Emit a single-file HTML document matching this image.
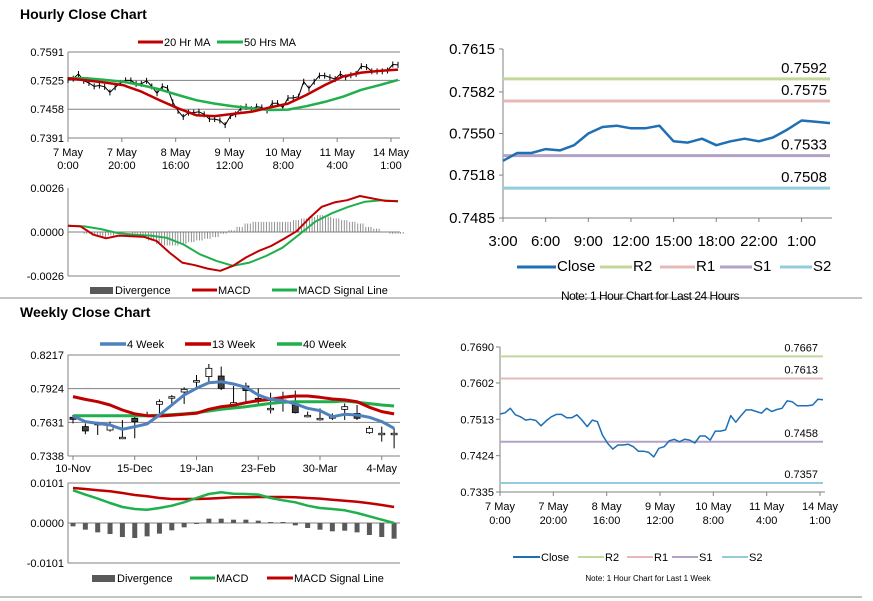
<!DOCTYPE html>
<html><head><meta charset="utf-8"><style>
body{margin:0;background:#fff;}
svg{display:block;font-family:"Liberation Sans",Arial,sans-serif;}
</style></head><body>
<svg id="s" width="873" height="601" viewBox="0 0 873 601" xmlns="http://www.w3.org/2000/svg">
<text x="20" y="19" font-size="14" font-weight="bold">Hourly Close Chart</text>
<text x="20" y="317" font-size="14" font-weight="bold">Weekly Close Chart</text>
<line x1="0" y1="298" x2="862" y2="298" stroke="#888" stroke-width="1"/>
<line x1="0" y1="597" x2="862" y2="597" stroke="#888" stroke-width="1"/>
</svg>
<script>
// ---- data: hourly (last week) close ----
const weekClose=[0.7526,0.7529,0.7540,0.7524,0.7519,0.7511,0.7513,0.7510,0.7497,0.7509,0.7519,0.7525,0.7525,0.7517,0.7517,0.7524,0.7511,0.7495,0.7511,0.7507,0.7474,0.7454,0.7440,0.7450,0.7450,0.7452,0.7446,0.7435,0.7435,0.7432,0.7421,0.7442,0.7446,0.7460,0.7464,0.7458,0.7464,0.7462,0.7455,0.7472,0.7472,0.7462,0.7484,0.7484,0.7487,0.7522,0.7506,0.7522,0.7536,0.7536,0.7532,0.7528,0.7540,0.7532,0.7537,0.7540,0.7558,0.7556,0.7546,0.7546,0.7546,0.7548,0.7562,0.7561];
const ma20=[0.7530,0.7525,0.7520,0.7514,0.7499,0.7479,0.7460,0.7444,0.7442,0.7447,0.7452,0.7462,0.7471,0.7491,0.7514,0.7534,0.7543,0.7547,0.7550];
const ma50=[0.7530,0.7530,0.7526,0.7522,0.7514,0.7504,0.7491,0.7479,0.7471,0.7465,0.7460,0.7456,0.7457,0.7465,0.7475,0.7487,0.7503,0.7514,0.7526];
const hourTicks=[["7 May","0:00"],["7 May","20:00"],["8 May","16:00"],["9 May","12:00"],["10 May","8:00"],["11 May","4:00"],["14 May","1:00"]];
const hPriceTicks=[0.7591,0.7525,0.7458,0.7391];
const hMacd=[0.00037,0.00033,-0.00016,-0.00037,-0.00021,-0.00025,-0.00029,-0.00054,-0.00122,-0.00181,-0.00196,-0.00216,-0.00229,-0.0020,-0.00151,-0.00113,-0.00083,-0.00041,0.00004,0.00081,0.00149,0.00175,0.00188,0.00213,0.00198,0.00184,0.00182];
const hSignal=[0.00037,0.00033,0.00017,-0.00006,-0.00016,-0.00021,-0.00035,-0.00074,-0.00132,-0.00171,-0.0020,-0.00181,-0.00142,-0.00093,-0.00016,0.00062,0.00111,0.00149,0.00179,0.00188,0.00182];
const hDiv=[0,0,-0.0001,-0.0002,-0.0003,-0.0002,-0.0001,0,-0.0001,-0.0003,-0.0005,-0.0007,-0.0008,-0.0008,-0.0007,-0.0006,-0.0005,-0.0004,-0.0003,-0.0001,0.0001,0.0003,0.0005,0.0006,0.0006,0.0006,0.0006,0.0006,0.0007,0.0008,0.0009,0.0010,0.0009,0.0008,0.0007,0.0006,0.0005,0.0003,0.0002,0,-0.0001,-0.0001];
const hMacdTicks=[0.0026,0.0,-0.0026];
// ---- 24h chart ----
const dayClose=[0.7529,0.7535,0.7535,0.7538,0.7537,0.7541,0.7550,0.7555,0.7556,0.7554,0.7554,0.7556,0.7544,0.7543,0.7546,0.7541,0.7544,0.7546,0.7544,0.7547,0.7553,0.7560,0.7559,0.7558];
const dayTicks=["3:00","6:00","9:00","12:00","15:00","18:00","22:00","1:00"];
const dayYTicks=[0.7615,0.7582,0.7550,0.7518,0.7485];
const dayLevels=[0.7592,0.7575,0.7533,0.7508];
const weekLevels=[0.7667,0.7613,0.7458,0.7357];
const weekYTicks=[0.7690,0.7602,0.7513,0.7424,0.7335];
// ---- weekly candles ----
const wOpen=[0.7675,0.7594,0.7622,0.7564,0.7501,0.7666,0.7695,0.7788,0.7854,0.7895,0.7994,0.8029,0.8034,0.7773,0.7947,0.7840,0.7753,0.7826,0.7782,0.7692,0.7666,0.7680,0.7744,0.7709,0.7541,0.7536,0.7536];
const wClose=[0.7657,0.7556,0.7622,0.7608,0.7501,0.7637,0.7695,0.7811,0.7854,0.7918,0.7994,0.8101,0.7927,0.7802,0.7907,0.7826,0.7753,0.7826,0.7715,0.7692,0.7666,0.7680,0.7767,0.7666,0.7579,0.7536,0.7536];
const wHigh=[0.7695,0.7622,0.7637,0.7637,0.7651,0.7709,0.7724,0.7831,0.7869,0.7936,0.8043,0.8139,0.8116,0.7947,0.7976,0.7927,0.7889,0.7898,0.7907,0.7724,0.7753,0.7709,0.7796,0.7782,0.7599,0.7594,0.7579];
const wLow=[0.7622,0.7527,0.7521,0.7550,0.7499,0.7492,0.7680,0.7709,0.7782,0.7791,0.7912,0.7985,0.7912,0.7767,0.7811,0.7782,0.7709,0.7724,0.7709,0.7675,0.7646,0.7651,0.7651,0.7651,0.7530,0.7463,0.7405];
const w4=[0.7686,0.7637,0.7622,0.7608,0.7570,0.7593,0.7617,0.7695,0.7782,0.7869,0.7927,0.7976,0.7985,0.7965,0.7936,0.7869,0.7831,0.7820,0.7791,0.7753,0.7733,0.7680,0.7701,0.7695,0.7675,0.7637,0.7579];
const w13=[0.7855,0.7831,0.7811,0.7782,0.7738,0.7704,0.7689,0.7686,0.7692,0.7701,0.7710,0.7744,0.7767,0.7779,0.7802,0.7820,0.7831,0.7849,0.7860,0.7860,0.7849,0.7834,0.7826,0.7811,0.7762,0.7724,0.7704];
const w40=[0.7689,0.7689,0.7689,0.7689,0.7689,0.7689,0.7689,0.7692,0.7698,0.7704,0.7715,0.7730,0.7744,0.7756,0.7767,0.7782,0.7796,0.7805,0.7811,0.7811,0.7811,0.7811,0.7817,0.7805,0.7794,0.7782,0.7773];
const weekLabels=["10-Nov","15-Dec","19-Jan","23-Feb","30-Mar","4-May"];
const wYTicks=[0.8217,0.7924,0.7631,0.7338];
const wMacd=[0.00825,0.00716,0.00615,0.00505,0.00404,0.00354,0.00337,0.00379,0.00438,0.00522,0.00632,0.00733,0.00775,0.00741,0.00733,0.00716,0.00632,0.00574,0.00522,0.00438,0.00379,0.00354,0.00320,0.00253,0.00168,0.00084,0];
const wSignal=[0.00884,0.00859,0.00825,0.00800,0.00758,0.00707,0.00674,0.00632,0.00606,0.00606,0.00606,0.00615,0.00632,0.00648,0.00648,0.00657,0.00657,0.00657,0.00648,0.00632,0.00615,0.00589,0.00564,0.00539,0.00497,0.00455,0.00404];
const wDiv=[-0.00084,-0.00168,-0.00236,-0.00278,-0.00354,-0.00379,-0.00337,-0.00269,-0.00185,-0.00109,-0.00025,0.00109,0.00109,0.00084,0.00084,0.00059,0.00025,0.00025,-0.00059,-0.00126,-0.00168,-0.00210,-0.00194,-0.00236,-0.00303,-0.00354,-0.00396];
const wMacdTicks=[0.0101,0.0,-0.0101];

const S=document.getElementById('s');
const NS='http://www.w3.org/2000/svg';
function mk(tag,attrs,parent){const e=document.createElementNS(NS,tag);for(const k in attrs)e.setAttribute(k,attrs[k]);(parent||S).appendChild(e);return e;}
function lin(d0,d1,r0,r1){return v=>r0+(v-d0)/(d1-d0)*(r1-r0);}
function txt(x,y,s,size,anchor,name){const t=mk('text',{x:x,y:y,'font-size':size,'text-anchor':anchor||'start',fill:'#000'});t.textContent=s;


return t;}
function poly(arr,xf,yf,color,w,name){const pts=arr.map((v,i)=>xf(i).toFixed(1)+','+yf(v).toFixed(1)).join(' ');const p=mk('polyline',{points:pts,fill:'none',stroke:color,'stroke-width':w,'stroke-linejoin':'round'});


return p;}
function hline(x1,x2,y,color,w,name){const l=mk('line',{x1:x1,x2:x2,y1:y,y2:y,stroke:color,'stroke-width':w});


return l;}
function vline(x,y1,y2,color,w,name){const l=mk('line',{x1:x,x2:x,y1:y1,y2:y2,stroke:color,'stroke-width':w});


return l;}
function legLine(x1,x2,y,color,w,label,size,name){hline(x1,x2,y,color,w,name+'-swatch');txt(x2+1,y+4,label,size,'start',name+'-label');}
function legBox(x1,x2,y,label,size,name){const r=mk('rect',{x:x1,y:y-3,width:x2-x1,height:7,fill:'#595959'});


txt(x2+2,y+4,label,size,'start',name+'-label');}

// ===== Hourly price chart (top-left) =====
{const X0=68,X1=398,yf=lin(0.7391,0.7591,138,52);
 hPriceTicks.forEach(t=>{hline(X0,400,yf(t),'#808080',1,'hourly-gridline');txt(X0-4,yf(t)+4,t.toFixed(4),11,'end','hourly-y-tick');});
 vline(X0,52,138,'#808080',1,'hourly-y-axis');
 hourTicks.forEach((t,i)=>{const x=X0+i*(391-68)/6;vline(x,138,142,'#808080',1,'hourly-x-tickmark');txt(x,156,t[0],11,'middle','hourly-x-tick');txt(x,169,t[1],11,'middle','hourly-x-tick');});
 const xf=i=>X0+i*(X1-X0)/(weekClose.length-1);
 poly(weekClose,xf,yf,'#000',1,'hourly-price-bars');
 weekClose.forEach((v,i)=>{vline(xf(i),yf(v)-3,yf(v)+3,'#000',1,'hourly-bar');});
 poly(ma50,i=>X0+i*(X1-X0)/(ma50.length-1),yf,'#1fb04c',2.5,'ma50-line');
 poly(ma20,i=>X0+i*(X1-X0)/(ma20.length-1),yf,'#c00000',2.5,'ma20-line');
 legLine(138,163,42,'#c00000',3,'20 Hr MA',11,'legend-ma20');
 legLine(217,243,42,'#1fb04c',3,'50 Hrs MA',11,'legend-ma50');
}
// ===== Hourly MACD =====
{const X0=68,X1=398,yf=lin(-0.0026,0.0026,276,188);
 hMacdTicks.forEach(t=>{txt(X0-4,yf(t)+4,t.toFixed(4),11,'end','hourly-macd-y-tick');});
 hline(X0,400,yf(0),'#808080',1,'hourly-macd-zero');hline(X0,400,276,'#808080',1,'hourly-macd-x-axis');
 vline(X0,188,276,'#808080',1,'hourly-macd-y-axis');
 hDiv.forEach((v,i)=>{const x=X0+i*(X1-X0)/(hDiv.length-1);for(let k=0;k<3;k++){vline(x+k*2.6,yf(0),yf(v),'#777',0.8,'hourly-divergence-bar');}});
 poly(hSignal,i=>X0+i*(X1-X0)/(hSignal.length-1),yf,'#1fb04c',2,'hourly-signal-line');
 poly(hMacd,i=>X0+i*(X1-X0)/(hMacd.length-1),yf,'#c00000',2,'hourly-macd-line');
 legBox(90,113,290,'Divergence',11,'legend-divergence');
 legLine(192,217,290,'#c00000',3,'MACD',11,'legend-macd');
 legLine(272,297,290,'#1fb04c',3,'MACD Signal Line',11,'legend-signal');
}
// ===== 24h chart (top-right) =====
{const X0=503,X1=830,yf=lin(0.7485,0.7615,218,49);
 vline(X0,49,218,'#808080',1,'day-y-axis');hline(X0,832,218,'#808080',1,'day-x-axis');
 dayYTicks.forEach(t=>{hline(X0-4,X0,yf(t),'#808080',1,'day-y-tickmark');txt(X0-8,yf(t)+5,t.toFixed(4),15,'end','day-y-tick');});
 const step=(X1-X0)/(dayClose.length-1);
 dayTicks.forEach((t,i)=>{const x=X0+i*3*step;vline(x,218,222,'#808080',1,'day-x-tickmark');txt(x,246,t,15,'middle','day-x-tick');});
 const cols=['#c3d69b','#e6b9b8','#b3a2c7','#93cddd'];const nm=['r2','r1','s1','s2'];
 dayLevels.forEach((v,i)=>{hline(X0,X1,yf(v),cols[i],3,'day-level-'+nm[i]);txt(827,yf(v)-6,v.toFixed(4),15,'end','day-level-label-'+nm[i]);});
 poly(dayClose,i=>X0+i*step,yf,'#1f6fb5',2.5,'day-close-line');
 legLine(517,556,267,'#1f6fb5',3,'Close',15,'day-legend-close');
 legLine(600,632,267,'#c3d69b',3,'R2',15,'day-legend-r2');
 legLine(660,695,267,'#e6b9b8',3,'R1',15,'day-legend-r1');
 legLine(720,752,267,'#b3a2c7',3,'S1',15,'day-legend-s1');
 legLine(780,812,267,'#93cddd',3,'S2',15,'day-legend-s2');
 const n=txt(650,300,'Note: 1 Hour Chart for Last 24 Hours',12,'middle','day-note');n.setAttribute('letter-spacing','-0.5');
}
// ===== Weekly candle chart =====
{const X0=68,yf=lin(0.7338,0.8217,456,355),xf=i=>73+i*12.35;
 wYTicks.forEach(t=>{hline(X0,400,yf(t),'#808080',1,'weekly-gridline');txt(X0-4,yf(t)+4,t.toFixed(4),11,'end','weekly-y-tick');});
 vline(X0,355,456,'#808080',1,'weekly-y-axis');
 weekLabels.forEach((l,i)=>{const x=xf(i*5);vline(x,456,460,'#808080',1,'weekly-x-tickmark');txt(x,472,l,11,'middle','weekly-x-tick');});
 wOpen.forEach((o,i)=>{const c=wClose[i],x=xf(i);vline(x,yf(wHigh[i]),yf(wLow[i]),'#000',1,'weekly-candle-wick');
  const top=yf(Math.max(o,c)),h=Math.max(1.5,Math.abs(yf(o)-yf(c)));
  const r=mk('rect',{x:x-3,y:top,width:6,height:h,fill:c<o?'#404040':'#fff',stroke:'#000','stroke-width':0.8});
  
  });
 poly(w40,xf,yf,'#1fb04c',3,'ma40-week-line');
 poly(w13,xf,yf,'#c00000',3,'ma13-week-line');
 poly(w4,xf,yf,'#4f81bd',3,'ma4-week-line');
 legLine(100,126,344,'#4f81bd',3.5,'4 Week',11,'legend-4week');
 legLine(185,211,344,'#c00000',3.5,'13 Week',11,'legend-13week');
 legLine(277,302,344,'#1fb04c',3.5,'40 Week',11,'legend-40week');
}
// ===== Weekly MACD =====
{const X0=68,yf=lin(-0.0101,0.0101,563,483),xf=i=>73+i*12.35;
 wMacdTicks.forEach(t=>{hline(X0,400,yf(t),'#808080',1,'weekly-macd-gridline');txt(X0-4,yf(t)+4,t.toFixed(4),11,'end','weekly-macd-y-tick');});
 vline(X0,483,563,'#808080',1,'weekly-macd-y-axis');
 wDiv.forEach((v,i)=>{const y0=yf(0),y1=yf(v);const r=mk('rect',{x:xf(i)-2.5,y:Math.min(y0,y1),width:5,height:Math.abs(y1-y0),fill:'#595959'});
  
  });
 poly(wSignal,xf,yf,'#c00000',2.5,'weekly-signal-line');
 poly(wMacd,xf,yf,'#1fb04c',2.5,'weekly-macd-line');
 legBox(92,115,578,'Divergence',11,'weekly-legend-divergence');
 legLine(190,215,578,'#1fb04c',3,'MACD',11,'weekly-legend-macd');
 legLine(267,293,578,'#c00000',3,'MACD Signal Line',11,'weekly-legend-signal');
}
// ===== Week close chart (bottom-right) =====
{const X0=500,X1=823,yf=lin(0.7335,0.7690,492,347);
 vline(X0,347,492,'#808080',1,'week-y-axis');hline(X0,825,492,'#808080',1,'week-x-axis');
 weekYTicks.forEach(t=>{hline(X0-4,X0,yf(t),'#808080',1,'week-y-tickmark');txt(X0-6,yf(t)+4,t.toFixed(4),11,'end','week-y-tick');});
 hourTicks.forEach((t,i)=>{const x=X0+i*(820-500)/6;vline(x,492,496,'#808080',1,'week-x-tickmark');txt(x,510,t[0],11,'middle','week-x-tick');txt(x,524,t[1],11,'middle','week-x-tick');});
 const cols=['#c3d69b','#e6b9b8','#b3a2c7','#93cddd'];const nm=['r2','r1','s1','s2'];
 weekLevels.forEach((v,i)=>{hline(X0,X1,yf(v),cols[i],2,'week-level-'+nm[i]);txt(818,yf(v)-5,v.toFixed(4),11,'end','week-level-label-'+nm[i]);});
 poly(weekClose,i=>X0+i*(X1-X0)/(weekClose.length-1),yf,'#1f6fb5',1.5,'week-close-line');
 legLine(513,540,557,'#1f6fb5',2,'Close',11,'week-legend-close');
 legLine(578,604,557,'#c3d69b',2,'R2',11,'week-legend-r2');
 legLine(627,653,557,'#e6b9b8',2,'R1',11,'week-legend-r1');
 legLine(672,698,557,'#b3a2c7',2,'S1',11,'week-legend-s1');
 legLine(722,748,557,'#93cddd',2,'S2',11,'week-legend-s2');
 txt(648,581,'Note: 1 Hour Chart for Last 1 Week',8,'middle','week-note');
}
</script>
</body></html>
